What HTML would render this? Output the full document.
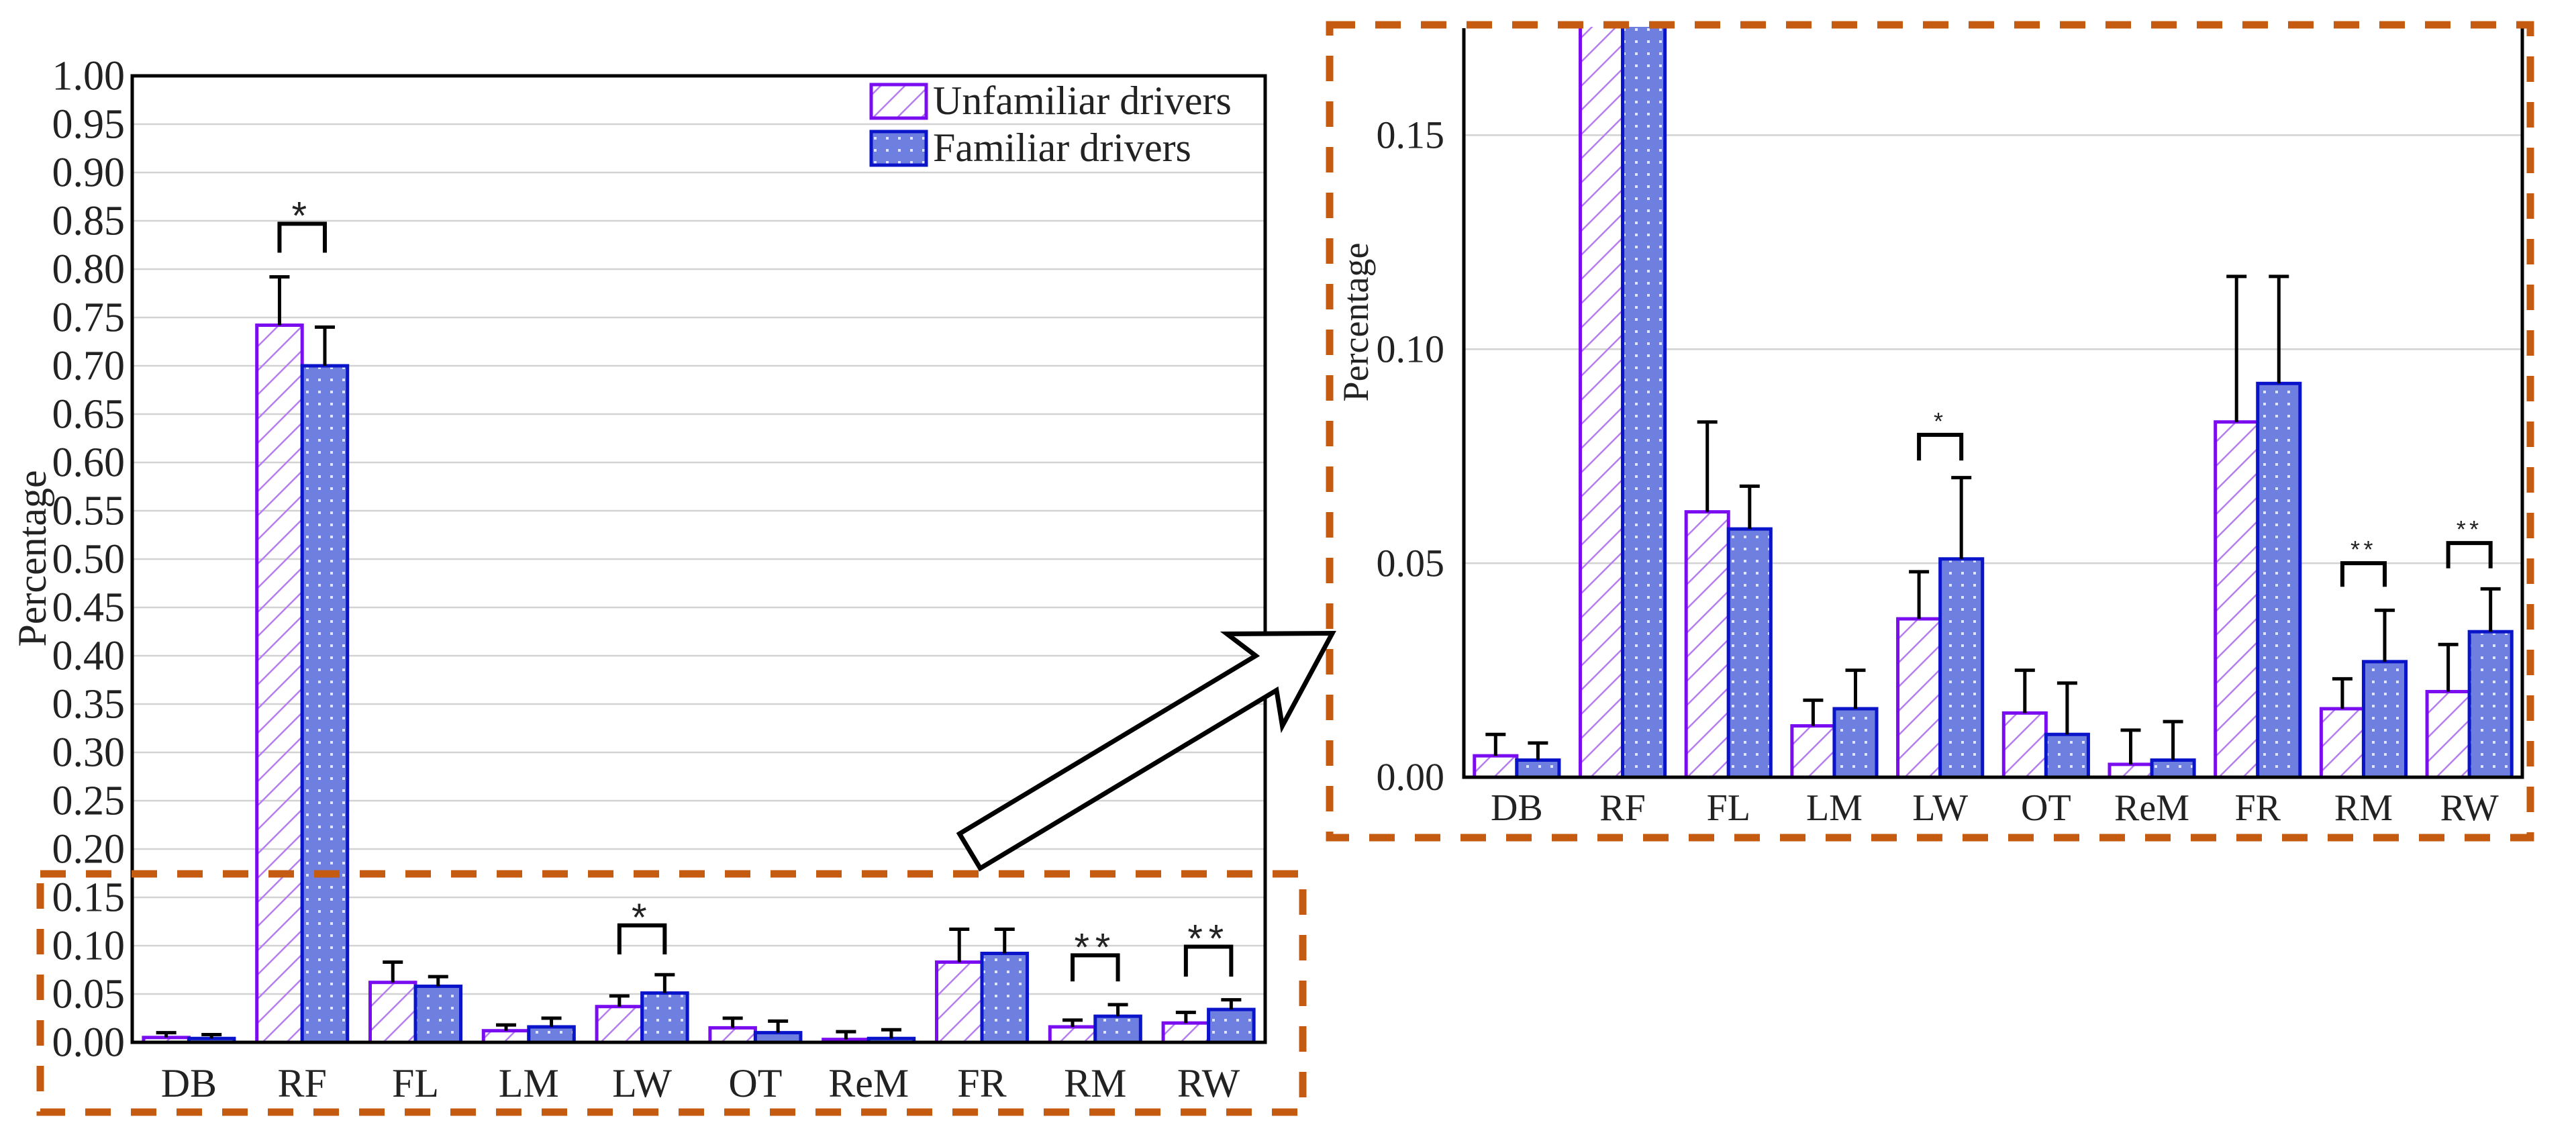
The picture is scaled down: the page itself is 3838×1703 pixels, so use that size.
<!DOCTYPE html>
<html><head><meta charset="utf-8">
<style>
html,body{margin:0;padding:0;background:#fff;}
svg{display:block;font-family:"Liberation Serif",serif;}
</style></head>
<body>
<svg id="fig" width="3838" height="1703" viewBox="0 0 3838 1703" xmlns="http://www.w3.org/2000/svg">
<defs>
<pattern id="hatch" patternUnits="userSpaceOnUse" width="36" height="36">
<path d="M-9,9 L9,-9 M0,36 L36,0 M27,45 L45,27" stroke="#b57cf2" stroke-width="2.5"/>
</pattern>
<pattern id="dots" patternUnits="userSpaceOnUse" width="18" height="18">
<rect width="18" height="18" fill="#6f7fe0"/>
<rect x="6" y="6" width="4" height="4" fill="#dfe4ff"/>
</pattern>
<clipPath id="clipR"><rect x="2181" y="40" width="1580" height="1120"/></clipPath>
</defs>
<g id="layer"></g>
</svg>
<script>
const categories = ["DB","RF","FL","LM","LW","OT","ReM","FR","RM","RW"];
const unfamiliar = [0.005,0.742,0.062,0.012,0.037,0.015,0.003,0.083,0.016,0.020];
const familiar = [0.004,0.700,0.058,0.016,0.051,0.010,0.004,0.092,0.027,0.034];
const unfamiliarErr = [0.010,0.792,0.083,0.018,0.048,0.025,0.011,0.117,0.023,0.031];
const familiarErr = [0.008,0.740,0.068,0.025,0.070,0.022,0.013,0.117,0.039,0.044];
const sigCats = ["RF","LW","RM","RW"];
const sigStars = ["*","*","**","**"];
const leftBracketTop = [0.847,0.121,0.090,0.099];
const leftBracketBottom = [0.817,0.091,0.063,0.068];
const rightBracketTop = [null,0.080,0.050,0.0547];
const rightBracketBottom = [null,0.074,0.0445,0.0488];
const leftTicks = ["0.00","0.05","0.10","0.15","0.20","0.25","0.30","0.35","0.40","0.45","0.50","0.55","0.60","0.65","0.70","0.75","0.80","0.85","0.90","0.95","1.00"];
const rightTicks = ["0.00","0.05","0.10","0.15"];

const NS="http://www.w3.org/2000/svg";
const layer=document.getElementById('layer');
function mk(tag,attrs,parent){const e=document.createElementNS(NS,tag);for(const k in attrs)e.setAttribute(k,attrs[k]);(parent||layer).appendChild(e);return e;}

function drawChart(c){
  const g=mk('g',{});
  
  
  const y=v=>c.y0-(v/c.ymax)*(c.y0-c.yTop);
  const cw=(c.x1-c.x0)/categories.length;
  const xc=i=>c.x0+cw*(i+0.5);
  const bw=cw*0.4;
  c.ticks.forEach(t=>{
    const v=parseFloat(t);const yy=y(v);
    if(v>0){const gl=mk('line',{x1:c.x0,x2:c.x1,y1:yy,y2:yy,stroke:'#d2d2d2','stroke-width':2.5},g);
      
      }
    const tx=mk('text',{x:c.tickX,y:yy+c.tickFs*0.33,'text-anchor':'end','font-size':c.tickFs,fill:'#222'},g);
    tx.textContent=t;
    
    
  });
  const bars=mk('g',{'clip-path':c.clip?'url(#'+c.clip+')':''},g);
  categories.forEach((cat,i)=>{
    const xu=xc(i)-bw, xf=xc(i);
    const r1=mk('rect',{x:xu,y:y(unfamiliar[i]),width:bw,height:c.y0-y(unfamiliar[i]),fill:'url(#hatch)',stroke:'#7a0cf0','stroke-width':5},bars);
    
    
    const r2=mk('rect',{x:xf,y:y(familiar[i]),width:bw,height:c.y0-y(familiar[i]),fill:'url(#dots)',stroke:'#0a14c8','stroke-width':5},bars);
    
    
    [[xu+bw/2,unfamiliar[i],unfamiliarErr[i]],[xf+bw/2,familiar[i],familiarErr[i]]].forEach(([x,v,e])=>{
      const eb=mk('path',{d:`M${x},${y(v)} V${y(e)} M${x-c.cap},${y(e)} H${x+c.cap}`,stroke:'#000','stroke-width':c.ew,fill:'none'},bars);
      
      
    });
    const lb=mk('text',{x:xc(i),y:c.labY,'text-anchor':'middle','font-size':c.labFs,fill:'#222'},g);
    lb.textContent=cat;
    
    
  });
  sigCats.forEach((cat,k)=>{
    const top=c.bTop[k],bot=c.bBot[k]; if(top==null)return;
    const i=categories.indexOf(cat);
    const xa=xc(i)-bw/2, xb=xc(i)+bw/2;
    const br=mk('path',{d:`M${xa},${y(bot)} V${y(top)} H${xb} V${y(bot)}`,stroke:'#000','stroke-width':c.ew+1,fill:'none'},g);
    
    
    const st=mk('text',{x:xc(i),y:y(top)-c.starGap,'text-anchor':'middle','font-size':c.starFs,fill:'#222','font-family':'Liberation Sans, sans-serif','letter-spacing':c.starFs*0.15},g);
    st.textContent=sigStars[k];
    
    
  });
  const ax=mk('path',{d:c.axisPath(c.x0,c.x1,c.yTop,c.y0),stroke:'#000','stroke-width':5,fill:'none'},g);
  
  
  const yt=mk('text',{x:c.titleX,y:c.titleY,'text-anchor':'middle','font-size':c.titleFs,fill:'#222',transform:`rotate(-90 ${c.titleX} ${c.titleY})`},g);
  yt.textContent='Percentage';
  
  
}

drawChart({name:'main-chart',x0:197,x1:1885,y0:1553,yTop:113,ymax:1.0,ticks:leftTicks,tickX:186,tickFs:62,
  labY:1634,labFs:60,cap:15,ew:5,bTop:leftBracketTop,bBot:leftBracketBottom,starFs:58,starGap:-8,
  titleX:68,titleY:832,titleFs:60,
  axisPath:(a,b,t,z)=>`M${a},${t} H${b} V${z} H${a} Z`});
drawChart({name:'zoomed-chart',x0:2181,x1:3758,y0:1158,yTop:42,ymax:0.175,ticks:rightTicks,tickX:2152,tickFs:58,
  labY:1222,labFs:56,cap:15,ew:5,bTop:rightBracketTop,bBot:rightBracketBottom,starFs:36,starGap:8,clip:'clipR',
  titleX:2038,titleY:480,titleFs:54,
  axisPath:(a,b,t,z)=>`M${a},${t} V${z} H${b} V${t}`});

[["Unfamiliar drivers",'url(#hatch)','#7a0cf0',126],["Familiar drivers",'url(#dots)','#0a14c8',196]].forEach(([t,f,s,yy])=>{
  const r=mk('rect',{x:1298,y:yy,width:82,height:50,fill:f,stroke:s,'stroke-width':5});
  
  
  const tx=mk('text',{x:1390,y:yy+44,'font-size':60,fill:'#222'});
  tx.textContent=t;
  
  
});

const dash={fill:'none',stroke:'#c55a11','stroke-width':11,'stroke-dasharray':'38 30'};
const b1=mk('rect',Object.assign({x:60,y:1302,width:1881,height:355},dash));


const b2=mk('rect',Object.assign({x:1981,y:37,width:1789,height:1211},dash));



const arr=mk('polygon',{points:'0,-30 515,-30 495,-80 630,0 495,80 515,30 0,30',fill:'#fff',stroke:'#000','stroke-width':7,transform:'translate(1445,1268) rotate(-31)'});


</script>
</body></html>
